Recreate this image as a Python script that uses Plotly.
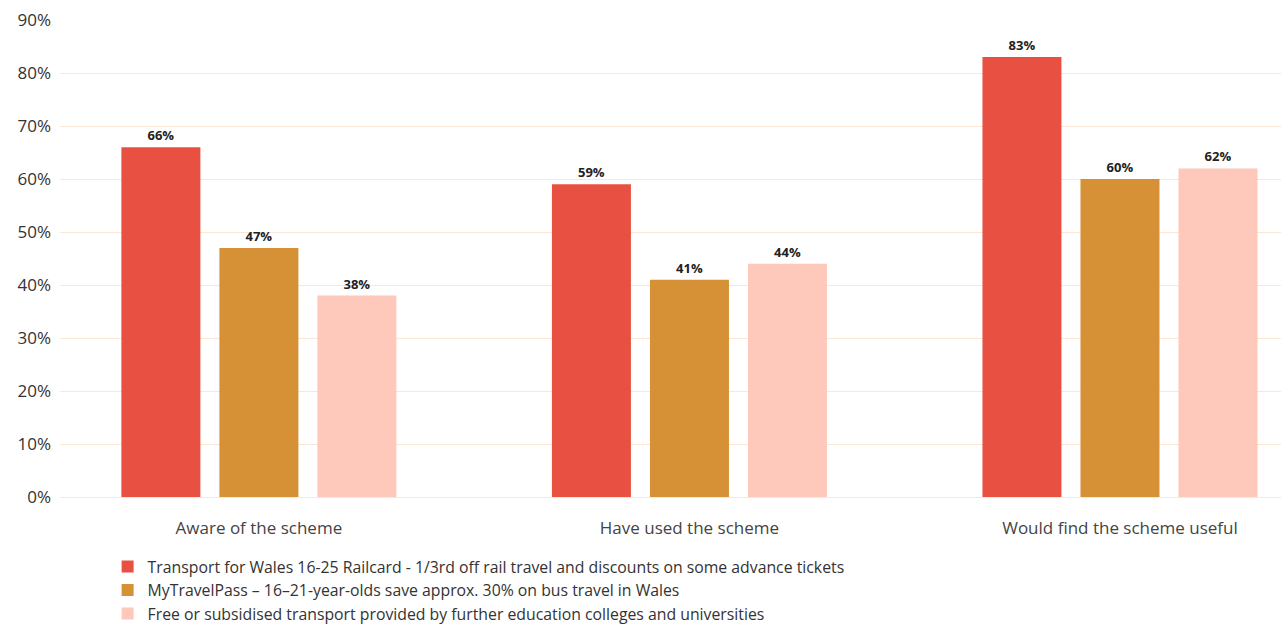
import plotly.graph_objects as go

categories = ["Aware of the scheme", "Have used the scheme", "Would find the scheme useful"]
series_names = [
    "Transport for Wales 16-25 Railcard - 1/3rd off rail travel and discounts on some advance tickets",
    "MyTravelPass – 16–21-year-olds save approx. 30% on bus travel in Wales",
    "Free or subsidised transport provided by further education colleges and universities",
]
railcard = [66, 59, 83]
mytravelpass = [47, 41, 60]
education = [38, 44, 62]
colors = ["#e85142", "#d69035", "#fec8bb"]

FONT = "Open Sans"

fig = go.Figure()
for name, vals, col in zip(series_names, [railcard, mytravelpass, education], colors):
    fig.add_trace(go.Bar(
        x=categories, y=vals, name=name,
        marker=dict(color=col, line=dict(width=0)),
        text=[f"{v}%" for v in vals], textposition="outside",
        textfont=dict(family=FONT, size=13, color="#222222", weight="bold"),
        cliponaxis=False,
    ))

fig.update_layout(
    width=1281, height=626,
    margin=dict(l=60, r=0, t=20, b=129, autoexpand=False),
    paper_bgcolor="white", plot_bgcolor="white",
    barmode="group", bargap=0.317, bargroupgap=0.194,
    font=dict(family=FONT, size=15, color="#333333"),
    xaxis=dict(type="category", range=[-0.462, 2.374], showgrid=False,
               showline=False, ticks="", ticklabelstandoff=19,
               tickfont=dict(size=17, color="#444444")),
    yaxis=dict(range=[0, 90], dtick=10, ticksuffix="%", showgrid=True,
               gridcolor="#fbe7d5", gridwidth=1, zeroline=True,
               zerolinecolor="#fbe7d5", zerolinewidth=1,
               tickfont=dict(size=17, color="#333333"), ticklabelstandoff=8),
    legend=dict(orientation="v", x=0.039, xanchor="left",
                yref="container", y=0.122, yanchor="top",
                font=dict(size=15.8, color="#333333"), traceorder="normal",
                itemclick=False, tracegroupgap=0),
    showlegend=True,
)

fig.write_html("out.html")
